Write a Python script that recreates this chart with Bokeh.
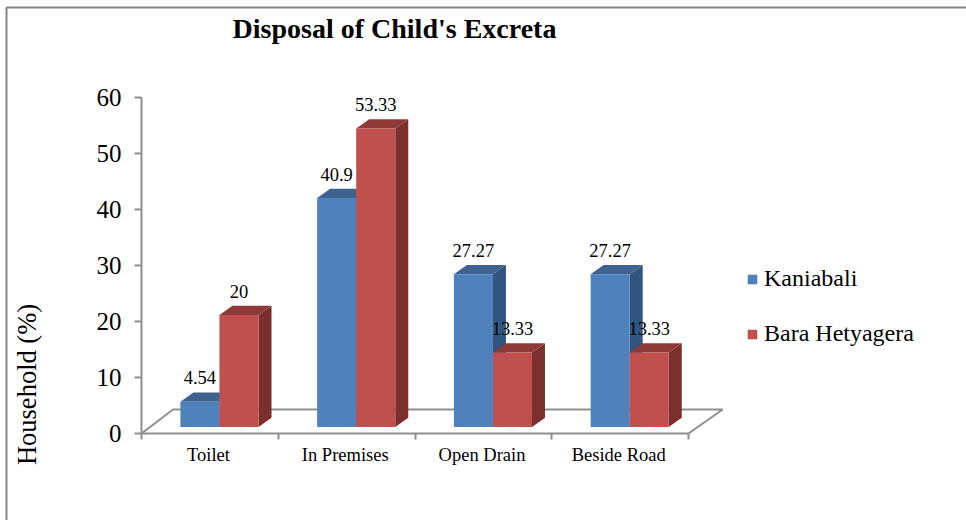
from math import pi
from bokeh.plotting import figure
from bokeh.models import (BoxAnnotation, FixedTicker, Label, Legend, LegendItem,
                          LinearAxis, ColumnDataSource)
from bokeh.embed import file_html
from bokeh.resources import INLINE

title = "Disposal of Child's Excreta"
y_title = "Household (%)"
categories = ["Toilet", "In Premises", "Open Drain", "Beside Road"]
kaniabali = [4.54, 40.9, 27.27, 27.27]
bara_hetyagera = [20, 53.33, 13.33, 13.33]
kaniabali_labels = ["4.54", "40.9", "27.27", "27.27"]
bara_labels = ["20", "53.33", "13.33", "13.33"]
y_ticks = [0, 10, 20, 30, 40, 50, 60]

SERIF = "Liberation Serif"
GREY = "#8f8f8f"
BAR_W = 0.2857
CENTER = 0.57
BASE = 1.15          # floor lift of the bars, in y units
DX, DY = 0.095, 1.65  # 3-D depth of a bar
FLOOR_BX0, FLOOR_BX1, FLOOR_BY = 0.23, 4.25, 4.29
PX_X, PX_Y = 136.75, 5.6   # pixels per category / per percent
ORG_X, ORG_Y = 141, 433    # where the axes cross on the canvas
W, H = 966, 520

p = figure(width=W, height=H, output_backend="svg", toolbar_location=None,
           x_range=(-ORG_X / PX_X, (W - ORG_X) / PX_X),
           y_range=(-(H - ORG_Y) / PX_Y, ORG_Y / PX_Y),
           x_axis_type=None, y_axis_type=None,
           min_border=0, background_fill_color="white",
           border_fill_color="white", outline_line_color=None,
           styles={"position": "absolute", "left": "0", "top": "0"})
p.grid.visible = False

# axes
n = len(categories)
xaxis = LinearAxis(ticker=FixedTicker(ticks=[i + 0.49 for i in range(n)],
                                      minor_ticks=list(range(n + 1))),
                   major_label_overrides={i + 0.49: c for i, c in enumerate(categories)},
                   bounds=(0, n), fixed_location=0,
                   major_tick_in=0, major_tick_out=0,
                   minor_tick_in=0, minor_tick_out=6,
                   minor_tick_line_color=GREY, minor_tick_line_width=2,
                   axis_line_color=GREY, axis_line_width=2,
                   major_label_standoff=5,
                   major_label_text_font=SERIF, major_label_text_font_size="18.5px",
                   major_label_text_color="black")
p.add_layout(xaxis, "below")
yaxis = LinearAxis(ticker=FixedTicker(ticks=y_ticks), bounds=(0, 60), fixed_location=0,
                   major_tick_in=0, major_tick_out=7,
                   minor_tick_line_color=None,
                   major_tick_line_color=GREY, major_tick_line_width=2,
                   axis_line_color=GREY, axis_line_width=2,
                   major_label_standoff=13,
                   major_label_text_font=SERIF, major_label_text_font_size="25px",
                   major_label_text_color="black")
p.add_layout(yaxis, "left")

# floor of the 3-D chart
p.line([0, FLOOR_BX0, FLOOR_BX1, n], [0, FLOOR_BY, FLOOR_BY, 0],
       line_color=GREY, line_width=2)

def bars(values, labels, shift, front, top, side):
    xl = [i + CENTER + shift for i in range(n)]
    xr = [x + BAR_W for x in xl]
    yt = [BASE + v for v in values]
    p.patches([[r, r + DX, r + DX, r] for r in xr],
              [[BASE, BASE + DY, t + DY, t] for t in yt],
              fill_color=side, line_color=None)
    p.patches([[l, l + DX, r + DX, r] for l, r in zip(xl, xr)],
              [[t, t + DY, t + DY, t] for t in yt],
              fill_color=top, line_color=None)
    r = p.quad(left=xl, right=xr, bottom=BASE, top=yt, fill_color=front, line_color=None)
    return r, xl, xr, yt

r1, xl1, xr1, yt1 = bars(kaniabali, kaniabali_labels, -BAR_W, "#4F81BD", "#3E6391", "#32557F")
r2, xl2, xr2, yt2 = bars(bara_hetyagera, bara_labels, 0, "#C0504D", "#8E3A38", "#7B302E")

for xl, xr, yt, labs in [(xl1, xr1, yt1, kaniabali_labels), (xl2, xr2, yt2, bara_labels)]:
    src = ColumnDataSource(dict(x=[(a + b) / 2 for a, b in zip(xl, xr)], y=yt, t=labs))
    p.text(x="x", y="y", text="t", source=src, text_align="center",
           text_baseline="alphabetic", y_offset=-24, text_color="black",
           text_font={"value": SERIF}, text_font_size={"value": "18.5px"})

# chart border, titles
p.add_layout(BoxAnnotation(left=6, right=990, top=7, bottom=540,
                           left_units="canvas", right_units="canvas",
                           top_units="canvas", bottom_units="canvas",
                           fill_alpha=0, line_color="#868686", line_alpha=1, line_width=2))
p.add_layout(Label(x=394, y=28, x_units="canvas", y_units="canvas", text=title,
                   text_align="center", text_baseline="middle", text_color="black",
                   text_font=SERIF, text_font_style="bold", text_font_size="28px"))
p.add_layout(Label(x=26, y=384, x_units="canvas", y_units="canvas", text=y_title,
                   angle=pi / 2, text_align="center", text_baseline="middle",
                   text_color="black", text_font=SERIF, text_font_size="26.5px"))

legend = Legend(items=[LegendItem(label="Kaniabali", renderers=[r1]),
                       LegendItem(label="Bara Hetyagera", renderers=[r2])],
                location=(746, 173), orientation="vertical", glyph_width=12, glyph_height=12,
                label_standoff=6, spacing=28, margin=0, padding=0,
                border_line_color=None, background_fill_alpha=0,
                label_text_font=SERIF, label_text_font_size="24px",
                label_text_color="black")
p.add_layout(legend, "center")

open("out.html", "w").write(file_html(p, INLINE))
